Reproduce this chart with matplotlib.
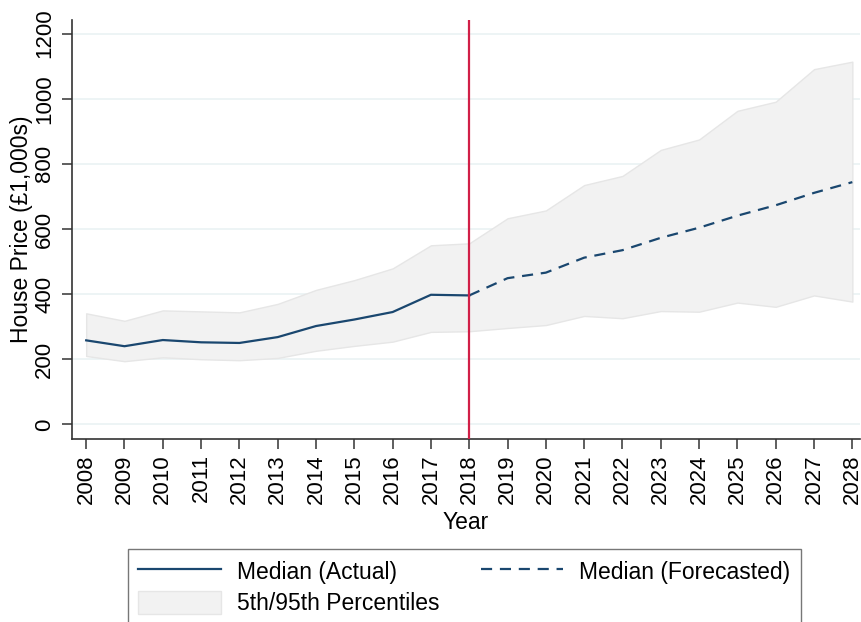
import numpy as np
import matplotlib
matplotlib.use("Agg")
import matplotlib.pyplot as plt
from matplotlib.patches import Patch
from matplotlib.lines import Line2D

# House price data (in £1,000s)
years_actual = [2008, 2009, 2010, 2011, 2012, 2013, 2014, 2015, 2016, 2017, 2018]
median_actual = [258, 240, 259, 252, 250, 268, 302, 322, 345, 398, 396]
upper_actual = [341, 318, 350, 347, 344, 370, 413, 443, 479, 550, 556]
lower_actual = [210, 194, 206, 200, 197, 204, 226, 241, 254, 284, 286]

years_fc = [2018, 2019, 2020, 2021, 2022, 2023, 2024, 2025, 2026, 2027, 2028]
median_fc = [396, 449, 466, 512, 535, 573, 604, 641, 673, 711, 744]
upper_fc = [556, 633, 657, 735, 763, 843, 875, 963, 991, 1091, 1114]
lower_fc = [286, 296, 305, 333, 326, 348, 346, 374, 361, 396, 377]

line_col = '#1a476f'
band_col = '#f2f2f2'

plt.rcParams['font.family'] = ['Liberation Sans', 'DejaVu Sans']

fig = plt.figure(figsize=(8.62, 6.22), dpi=100)
ax = fig.add_axes([72 / 862, 1 - 439 / 622, 788 / 862, 419 / 622])

# band: join the two halves
band_years = years_actual + years_fc[1:]
band_hi = upper_actual + upper_fc[1:]
band_lo = lower_actual + lower_fc[1:]
ax.fill_between(band_years, band_lo, band_hi, facecolor=band_col,
                edgecolor='#e6e6e6', linewidth=1, zorder=1)

ax.plot(years_actual, median_actual, color=line_col, lw=1.6, zorder=3)
ax.plot(years_fc, median_fc, color=line_col, lw=1.6, ls=(0, (5, 3.5)), zorder=3)

ax.axvline(2018, color='#d11f47', lw=1.6, zorder=4)

ax.set_xlim(2007.63, 2028.2)
ax.set_ylim(-45, 1242)
ax.set_yticks(range(0, 1201, 200))
ax.set_xticks(range(2008, 2029))
ax.grid(axis='y', color='#eaf2f3', lw=1.2, zorder=0)
ax.set_axisbelow(True)

for s in ['top', 'right']:
    ax.spines[s].set_visible(False)
for s in ['left', 'bottom']:
    ax.spines[s].set_color('#333333')
    ax.spines[s].set_linewidth(1.2)

ax.tick_params(axis='both', length=7, width=1.1, color='#333333',
               labelsize=16)
ax.tick_params(axis='x', pad=4)
ax.tick_params(axis='y', pad=5)
plt.setp(ax.get_xticklabels(), rotation=90)
plt.setp(ax.get_yticklabels(), rotation=90, va='center')

ax.set_xlabel('Year', fontsize=16.5, labelpad=5)
ax.set_ylabel('House Price (£1,000s)', fontsize=16.5, labelpad=1)

handles = [Line2D([], [], color=line_col, lw=1.6),
           Line2D([], [], color=line_col, lw=1.6, ls=(0, (5, 3.5))),
           Patch(facecolor=band_col, edgecolor='#e6e6e6')]
labels = ['Median (Actual)', 'Median (Forecasted)', '5th/95th Percentiles']
leg = fig.legend([handles[0], handles[2], handles[1]],
                 [labels[0], labels[2], labels[1]],
                 loc='upper left', bbox_to_anchor=(128 / 862, 1 - 549 / 622),
                 ncol=2, fontsize=16.5, frameon=True, fancybox=False,
                 edgecolor='#555555', handlelength=3.6, handleheight=1.2,
                 handletextpad=0.7, columnspacing=1.8, borderpad=0.45,
                 labelspacing=0.3, borderaxespad=0)
leg.get_frame().set_linewidth(1.0)

fig.savefig('out.png', dpi=100)
